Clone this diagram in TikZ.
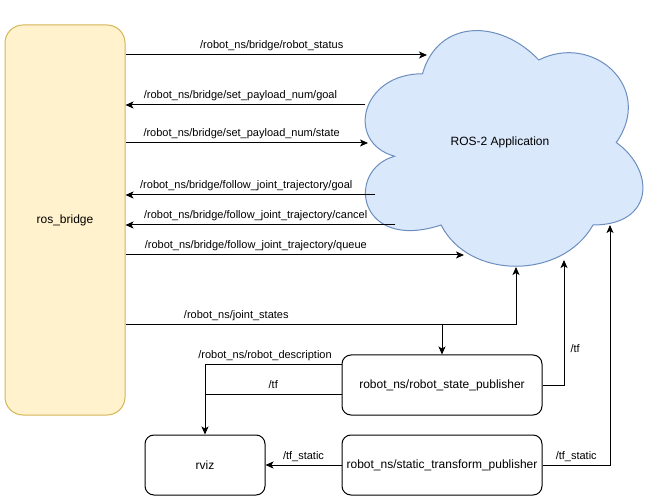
\documentclass[tikz,border=0pt]{standalone}
\usepackage{fontspec}
\setmainfont{Liberation Sans}
\usepackage{tikz}
\usetikzlibrary{arrows.meta}

\definecolor{bridgefill}{HTML}{FFF2CC}
\definecolor{bridgeline}{HTML}{D6B656}
\definecolor{cloudfill}{HTML}{DAE8FC}
\definecolor{cloudline}{HTML}{6C8EBF}

\begin{document}
\begin{tikzpicture}[x=1pt, y=-1pt, line width=1pt,
    box/.style={draw, rounded corners=9pt, minimum width=200pt, minimum height=60pt,
        inner sep=0pt, font=\fontsize{12}{14}\selectfont},
    lbl/.style={font=\fontsize{11}{13}\selectfont, anchor=base, yshift=6pt, inner sep=0pt},
    arr/.style={-{Stealth[length=8pt, width=7pt, inset=2pt]}}]
    \useasboundingbox (0,0) rectangle (661,502);

    % ROS-2 Application (cloud)
    \begin{scope}[xshift=345pt, yshift=-5pt, x=310pt, y=-275pt]
        \filldraw[fill=cloudfill, draw=cloudline] (0.25,0.25)
            .. controls (0.05,0.25) and (0,0.5) .. (0.16,0.55)
            .. controls (0,0.6) and (0.04,0.9) .. (0.31,0.8)
            .. controls (0.4,1) and (0.7,1) .. (0.8,0.8)
            .. controls (1,0.8) and (1,0.6) .. (0.875,0.5)
            .. controls (1,0.3) and (0.8,0.1) .. (0.625,0.2)
            .. controls (0.5,0.05) and (0.3,0.05) .. (0.25,0.25) -- cycle;
    \end{scope}
    \node[font=\fontsize{12}{14}\selectfont] (app) at (500,142) {ROS-2 Application};

    % nodes
    \node[draw=bridgeline, fill=bridgefill, rounded corners=18pt, minimum width=120pt,
        minimum height=390pt, font=\fontsize{12}{14}\selectfont] (bridge) at (65,220) {ros\_bridge};
    \node[box] (rsp) at (442,385) {robot\_ns/robot\_state\_publisher};
    \node[box] (stp) at (442,465) {robot\_ns/static\_transform\_publisher};
    \node[box, minimum width=120pt] (rviz) at (205,465) {rviz};

    % ends on the cloud
    \coordinate (app-status) at (427,55);
    \coordinate (app-pgoal) at (365,105);
    \coordinate (app-pstate) at (368,143);
    \coordinate (app-tgoal) at (375,195);
    \coordinate (app-tcancel) at (395,225);
    \coordinate (app-tqueue) at (464,255);
    \coordinate (app-joints) at (516,267);
    \coordinate (app-tf) at (564,260);
    \coordinate (app-tfstatic) at (610,225);
    \path (rsp.north) ++(0,-30) coordinate (js);
    \path (rviz.north) ++(0,-70) coordinate (rd) ++(0,30) coordinate (tfl);

    % bridge topics
    \draw[arr] (bridge.east |- app-status) -- node[lbl, pos=0.485] {/robot\_ns/bridge/robot\_status} (app-status);
    \draw[arr] (app-pgoal) -- node[lbl, pos=0.52] {/robot\_ns/bridge/set\_payload\_num/goal} (bridge.east |- app-pgoal);
    \draw[arr] (bridge.east |- app-pstate) -- node[lbl, pos=0.479] {/robot\_ns/bridge/set\_payload\_num/state} (app-pstate);
    \draw[arr] (app-tgoal) -- node[lbl, pos=0.516] {/robot\_ns/bridge/follow\_joint\_trajectory/goal} (bridge.east |- app-tgoal);
    \draw[arr] (app-tcancel) -- node[lbl, pos=0.517] {/robot\_ns/bridge/follow\_joint\_trajectory/cancel} (bridge.east |- app-tcancel);
    \draw[arr] (bridge.east |- app-tqueue) -- node[lbl, pos=0.385] {/robot\_ns/bridge/follow\_joint\_trajectory/queue} (app-tqueue);

    % joint states
    \draw[arr] (bridge.east |- js) -- node[lbl, pos=0.35] {/robot\_ns/joint\_states} (js) -| (app-joints);
    \draw[arr] (js) -- (rsp.north);

    % publishers
    \draw[arr] (rsp.west |- rd) -- node[lbl, pos=0.56] {/robot\_ns/robot\_description} (rviz.north |- rd) -- (rviz.north);
    \draw (rsp.west |- tfl) -- node[lbl] {/tf} (rviz.north |- tfl);
    \draw[arr] (rsp.east) -| node[lbl, pos=0.62, anchor=west, xshift=6pt, yshift=0pt] {/tf} (app-tf);
    \draw[arr] (stp.west) -- node[lbl] {/tf\_static} (rviz.east);
    \draw[arr] (stp.east) -| node[lbl, pos=0.25] {/tf\_static} (app-tfstatic);
\end{tikzpicture}
\end{document}
